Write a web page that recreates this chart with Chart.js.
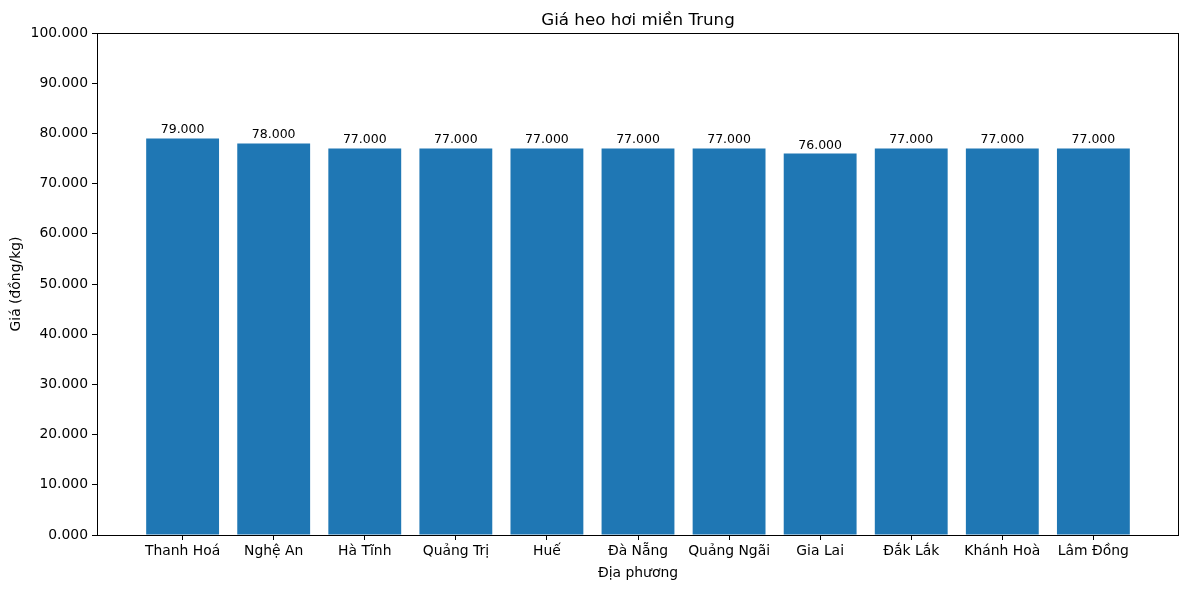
<!DOCTYPE html>
<html>
<head>
<meta charset="utf-8">
<script src="https://cdn.jsdelivr.net/npm/chart.js@4"></script>
<style>
  body { margin: 0; background: #fff; }
  canvas { display: block; }
</style>
</head>
<body>
<canvas id="priceChart" width="1189" height="590"></canvas>
<script>
const provinces = ["Thanh Hoá", "Nghệ An", "Hà Tĩnh", "Quảng Trị", "Huế", "Đà Nẵng", "Quảng Ngãi", "Gia Lai", "Đắk Lắk", "Khánh Hoà", "Lâm Đồng"];
const prices = [79000, 78000, 77000, 77000, 77000, 77000, 77000, 76000, 77000, 77000, 77000];
const yMin = 0;
const yMax = 100000;
const yStep = 10000;

const fmt = (v) => (v / 1000).toFixed(3);

// matplotlib-like full frame around the plot
const framePlugin = {
  id: "frame",
  afterDraw(chart) {
    const { ctx, chartArea: a } = chart;
    ctx.save();
    ctx.strokeStyle = "#000";
    ctx.lineWidth = 1;
    ctx.strokeRect(Math.round(a.left) + 0.5, Math.round(a.top) + 0.5,
      Math.round(a.right - a.left) - 1, Math.round(a.bottom - a.top));
    ctx.restore();
  },
};

// value labels above each bar
const barLabels = {
  id: "barLabels",
  afterDatasetsDraw(chart) {
    const ctx = chart.ctx;
    const meta = chart.getDatasetMeta(0);
    ctx.save();
    ctx.font = "12.5px 'DejaVu Sans'";
    ctx.fillStyle = "#000";
    ctx.textAlign = "center";
    ctx.textBaseline = "bottom";
    meta.data.forEach((bar, i) => {
      ctx.fillText(fmt(prices[i]), bar.x, bar.y - 2);
    });
    ctx.restore();
  },
};

Chart.defaults.font.family = "'DejaVu Sans'";
Chart.defaults.color = "#000";

const ctx = document.getElementById("priceChart").getContext("2d");
const chart = new Chart(ctx, {
  type: "bar",
  data: {
    datasets: [
      {
        data: prices.map((p, i) => ({ x: i, y: p })),
        backgroundColor: "#1f77b4",
        borderWidth: 0,
        categoryPercentage: 1.0,
        barPercentage: 0.8,
      },
    ],
  },
  options: {
    responsive: false,
    animation: false,
    devicePixelRatio: 1,
    layout: {
      padding: { top: 0, right: 10, bottom: 0, left: 0 },
    },
    plugins: {
      legend: { display: false },
      tooltip: { enabled: false },
      title: {
        display: true,
        fullSize: false,
        text: "Giá heo hơi miền Trung",
        color: "#000",
        font: { size: 16.7, weight: "normal" },
        padding: { top: 11, bottom: 2 },
      },
    },
    scales: {
      x: {
        type: "linear",
        min: -0.94,
        max: 10.94,
        offset: false,
        afterBuildTicks: (axis) => {
          axis.ticks = provinces.map((_, i) => ({ value: i }));
        },
        afterFit: (axis) => {
          axis.height = 55;
        },
        ticks: {
          autoSkip: false,
          maxRotation: 0,
          padding: 3,
          font: { size: 13.9 },
          callback: (v) => provinces[v],
        },
        grid: {
          display: true,
          offset: false,
          drawOnChartArea: false,
          drawTicks: true,
          tickLength: 5,
          color: "#000",
        },
        border: { display: false },
        title: {
          display: true,
          text: "Địa phương",
          font: { size: 13.9 },
          padding: { top: 4, bottom: 8 },
        },
      },
      y: {
        min: yMin,
        max: yMax,
        afterFit: (axis) => {
          axis.width = 97;
        },
        ticks: {
          stepSize: yStep,
          padding: 4,
          font: { size: 13.9 },
          callback: (v) => fmt(v),
        },
        grid: {
          display: true,
          drawOnChartArea: false,
          drawTicks: true,
          tickLength: 5,
          color: "#000",
        },
        border: { display: false },
        title: {
          display: true,
          text: "Giá (đồng/kg)",
          font: { size: 13.9 },
          padding: { top: 8, bottom: 0 },
        },
      },
    },
  },
  plugins: [framePlugin, barLabels],
});
</script>
</body>
</html>
